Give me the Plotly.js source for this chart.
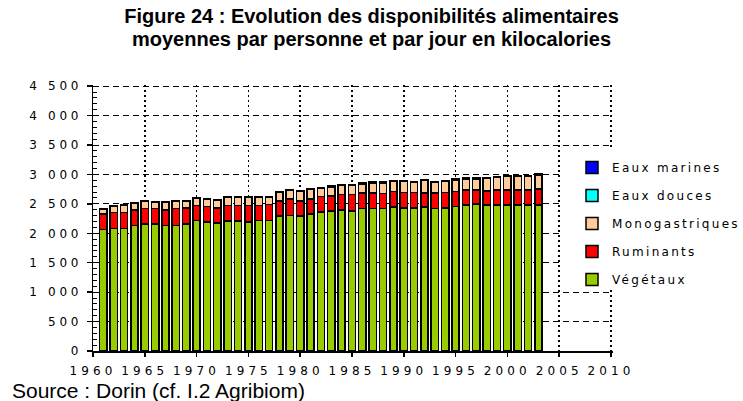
<!DOCTYPE html>
<html><head><meta charset="utf-8">
<script src="https://cdn.plot.ly/plotly-3.0.1.min.js"></script>
<style>
html,body{margin:0;padding:0;background:#fff;}
#chart{width:743px;height:401px;}
.xtick text {letter-spacing:4.1px;}
.ytick text {letter-spacing:3.7px;}
.legendtext {letter-spacing:2.3px;}
</style></head><body><div id="chart"></div>
<script>
const years = [1961,1962,1963,1964,1965,1966,1967,1968,1969,1970,
  1971,1972,1973,1974,1975,1976,1977,1978,1979,1980,
  1981,1982,1983,1984,1985,1986,1987,1988,1989,1990,
  1991,1992,1993,1994,1995,1996,1997,1998,1999,2000,
  2001,2002,2003];
const vegetaux = [2066,2083,2083,2134,2162,2162,2134,2134,2162,2219,
  2196,2173,2213,2213,2196,2219,2219,2292,2304,2292,
  2326,2360,2383,2400,2377,2422,2422,2422,2451,2434,
  2434,2451,2422,2434,2456,2479,2502,2479,2479,2479,
  2479,2479,2479];
const ruminants = [260,272,272,266,260,260,266,288,272,254,
  260,261,260,260,277,254,271,261,283,261,
  261,266,255,260,283,261,261,255,260,260,
  260,232,261,260,255,255,232,238,255,255,
  255,255,277];
const monogastriques = [87,109,126,110,122,105,121,116,104,127,
  124,124,141,135,135,135,124,141,146,157,
  157,141,152,158,158,158,175,181,175,192,
  172,211,183,189,195,189,189,217,211,234,
  234,234,234];
const eauxDouces = [3,3,3,3,3,3,3,3,3,3,
  4,4,4,4,4,4,4,4,4,4,
  4,4,4,4,4,4,4,4,4,4,
  5,5,5,5,5,5,5,5,5,5,
  5,5,5];
const eauxMarines = [6,6,6,6,6,6,6,6,6,6,
  8,8,8,8,8,8,8,8,8,8,
  8,8,8,8,8,8,8,8,8,8,
  10,10,10,10,10,10,10,10,10,10,
  10,10,10];
const seriesNames = ["Végétaux","Ruminants","Monogastriques","Eaux douces","Eaux marines"];
const seriesColors = ["#99CC00","#FF0000","#FFCC99","#00FFFF","#0000FF"];
const seriesValues = [vegetaux, ruminants, monogastriques, eauxDouces, eauxMarines];
const xTickVals = [1960,1965,1970,1975,1980,1985,1990,1995,2000,2005,2010];
const yTickVals = [0,500,1000,1500,2000,2500,3000,3500,4000,4500];
const yTickText = ["0","500","1 000","1 500","2 000","2 500","3 000","3 500","4 000","4 500"];
const titleLine1 = "Figure 24 : Evolution des disponibilités alimentaires";
const titleLine2 = "moyennes par personne et par jour en kilocalories";
const sourceText = "Source : Dorin (cf. I.2 Agribiom)";

const traces = seriesNames.map((n, i) => ({
  type: "bar", name: n, x: years, y: seriesValues[i], width: 0.7,
  legendgroup: "g" + i, legendrank: seriesNames.length - i,
  marker: {color: seriesColors[i], line: {color: "#000", width: 1.5}},
  hoverinfo: "x+y+name"
}));

const tickFont = {family: "DejaVu Sans", size: 12, color: "#000"};
const layout = {
  width: 743, height: 401,
  margin: {l: 93, r: 130, t: 85, b: 50, autoexpand: false},
  paper_bgcolor: "#fff", plot_bgcolor: "#fff",
  barmode: "stack", bargap: 0.3,
  showlegend: true,
  title: {text: "<b>" + titleLine1 + "</b>", x: 0.5, xref: "container", xanchor: "center",
    y: 1 - 16/401, yref: "container", yanchor: "middle",
    font: {family: "Liberation Sans", size: 20, color: "#000"}},
  xaxis: {range: [1960, 2010.2], tickmode: "array", tickvals: xTickVals,
    ticks: "outside", ticklen: 4, tickwidth: 1.5, tickcolor: "#000",
    showline: true, linecolor: "#000", linewidth: 1.5,
    showgrid: true, gridcolor: "#000", gridwidth: 1.5, griddash: "2px,3px",
    zeroline: false, tickfont: tickFont, ticklabelstandoff: 4},
  yaxis: {range: [0, 4520], tickmode: "array", tickvals: yTickVals, ticktext: yTickText,
    ticks: "outside", ticklen: 5, tickwidth: 1.5, tickcolor: "#000",
    showline: true, linecolor: "#000", linewidth: 1.5,
    showgrid: true, gridcolor: "#000", gridwidth: 1, griddash: "6px,4px",
    zeroline: false, tickfont: tickFont, ticklabelstandoff: 2,
    minor: {tickmode: "linear", tick0: 0, dtick: 100, ticks: "inside", ticklen: 4,
      tickwidth: 1, tickcolor: "#000", showgrid: false}},
  legend: {x: (561 - 93) / 520, xanchor: "left", y: (351 - 153) / 266, yanchor: "top",
    bgcolor: "rgba(0,0,0,0)",
    borderwidth: 0, font: {family: "DejaVu Sans", size: 12, color: "#000"},
    indentation: 11, tracegroupgap: 9, traceorder: "grouped"},
  shapes: [
    {type: "rect", xref: "paper", yref: "paper", layer: "above",
      x0: (561 - 93) / 520, x1: 1.3, y0: (351 - 289) / 266, y1: (351 - 148) / 266,
      fillcolor: "#fff", line: {width: 0}}
  ],
  annotations: [
    {text: "<b>" + titleLine2 + "</b>", xref: "paper", yref: "paper",
      x: (371.5 - 93) / 520, y: (351 - 38.5) / 266, xanchor: "center", yanchor: "middle",
      showarrow: false, font: {family: "Liberation Sans", size: 20, color: "#000"}},
    {text: sourceText, xref: "paper", yref: "paper", x: -83 / 520, y: (351 - 390) / 266,
      xanchor: "left", yanchor: "middle", showarrow: false,
      font: {family: "Liberation Sans", size: 21, color: "#000"}}
  ]
};
Plotly.newPlot("chart", traces, layout, {displayModeBar: false, staticPlot: true});
</script></body></html>
